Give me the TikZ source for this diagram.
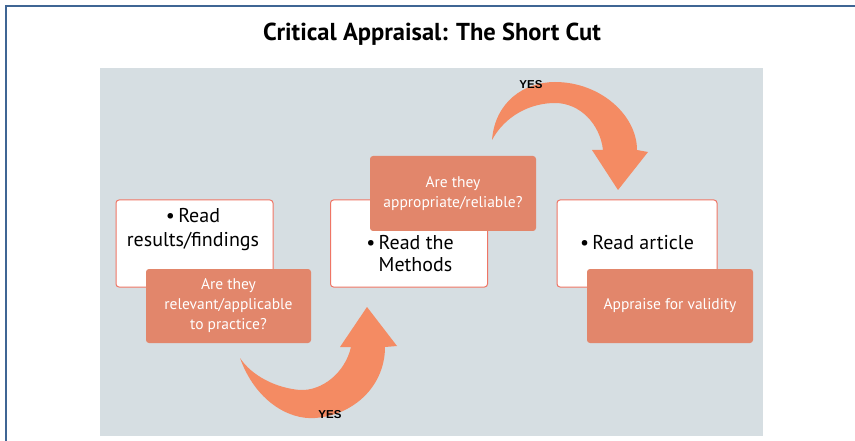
\documentclass[tikz,border=0pt]{standalone}
\usepackage{fontspec}
\setmainfont{PT Sans}
\setsansfont{Liberation Sans}
\usetikzlibrary{positioning}
\definecolor{frameblue}{HTML}{3F6594}
\definecolor{panelgray}{HTML}{D6DEE2}
\definecolor{cardline}{HTML}{EF7565}
\definecolor{notefill}{HTML}{E2866B}
\definecolor{arrowfill}{HTML}{F48B63}

\begin{document}
\begin{tikzpicture}[
x=1pt,y=-1pt,
card/.style={
  draw=cardline,
  fill=white,
  line width=1pt,
  rounded corners=3pt,
  minimum width=157pt,
  minimum height=87pt
  },
note/.style={
  fill=notefill,
  rounded corners=3pt,
  minimum width=165pt,
  minimum height=74pt,
  text=white,
  align=center,
  font=\fontsize{15.5}{20}\selectfont
  },
cardtext/.style={
  font=\fontsize{20}{22}\selectfont,
  inner sep=0pt
  },
yes/.style={
  font=\sffamily\bfseries\fontsize{11.5}{12}\selectfont,
  inner sep=0pt
  },
bigarrow/.style={
  fill=arrowfill,
  draw=none
  }
]
\useasboundingbox (0,0) rectangle (855,441);
% frame and panel
\draw[frameblue, line width=2pt] (5.5,441) -- (5.5,6.5) -- (855,6.5);
\fill[panelgray] (100,68) rectangle (763,436);
\node[font=\bfseries\fontsize{24.5}{26}\selectfont] (title) at (432,34) {Critical Appraisal: The Short Cut};

% step boxes
\node[card] (results) at (194.5,243.5) {};
\node[card] (methods) at (409,243.5) {};
\node[card, minimum width=160pt] (article) at (637,243.5) {};
\node[cardtext, align=center] (resultstext) at (193,230) {\textbullet\,Read\\[2pt]results/findings};
\node[cardtext, align=left] (methodstext) at (410,254) {\textbullet\,Read the\\[0pt]\hphantom{\textbullet\,}Methods};
\node[cardtext] (articletext) at (637,243) {\textbullet\,Read article};

% questions
\node[note] (relevant) at (228.5,306) {Are they\\relevant/applicable\\to practice?};
\node[note, minimum width=166pt, minimum height=75pt] (reliable) at (453,193.5) {Are they\\appropriate/reliable?};
\node[note, minimum width=166pt] (validity) at (670,306) {Appraise for validity};

% yes arrows
\coordinate (tail1) at (240,358);
\coordinate (tip1) at (367,307);
\coordinate (tail2) at (492,140);
\coordinate (tip2) at (618,190);
\fill[bigarrow] (tail1) .. controls (255,400) and (288,420) .. (315,418)
  .. controls (355,415) and (385,385) .. (385,347)
  -- (397,346) -- (tip1) -- (340,347) -- (351,347)
  .. controls (345,373) and (322,391) .. (300,390)
  .. controls (276,388) and (252,376) .. (tail1) -- cycle;
\fill[bigarrow] (tail2) .. controls (495,102) and (524,82) .. (555,82)
  .. controls (600,82) and (637,115) .. (637,150)
  -- (648,152) -- (tip2) -- (592,150) -- (603,150)
  .. controls (600,124) and (580,103) .. (555,103)
  .. controls (530,103) and (505,116) .. (tail2) -- cycle;
\node[yes] (yes1) at (330,415) {YES};
\node[yes] (yes2) at (531,85) {YES};
\end{tikzpicture}
\end{document}
